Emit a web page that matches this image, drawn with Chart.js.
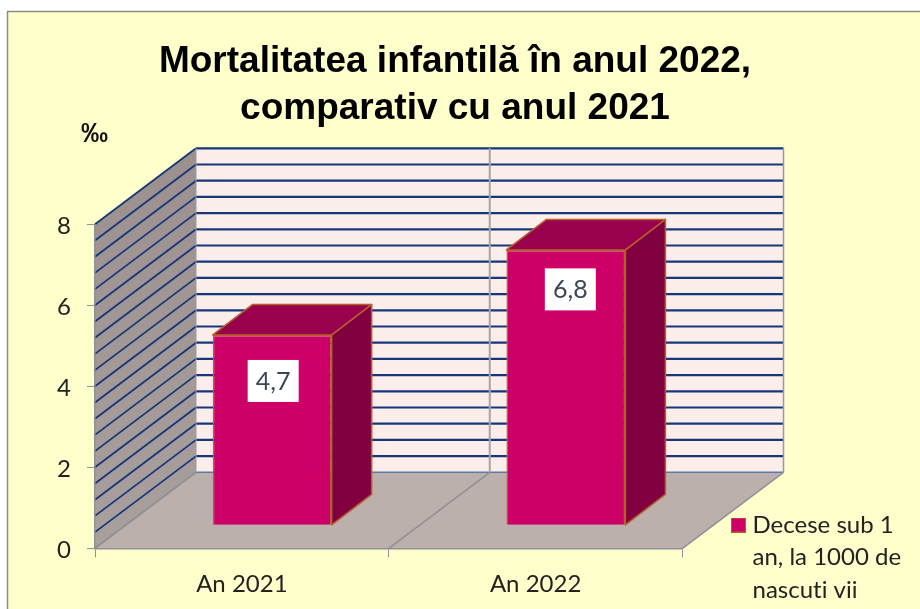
<!DOCTYPE html>
<html>
<head>
<meta charset="utf-8">
<title>Mortalitatea infantilă</title>
<script src="https://cdn.jsdelivr.net/npm/chart.js@4"></script>
<style>
  html, body { margin: 0; padding: 0; background: #ffffff; }
  canvas { display: block; }
</style>
</head>
<body>
<canvas id="chart" width="920" height="609"></canvas>
<script>
// Data
const categories = ['An 2021', 'An 2022'];
const seriesName = ['Decese sub 1', 'an, la 1000 de', 'nascuti vii'];
const seriesValues = [4.7, 6.8];
const titleLines = ['Mortalitatea infantilă în anul 2022,', 'comparativ cu anul 2021'];
const unitLabel = '‰';
const axisMax = 8;
const axisStep = 2;
const gridStep = 0.4;

// Fake 3D look: how far the back wall and the bar plane sit from the front plane
const wallDepth = { x: 101, y: 76 };
const barPlane = { x: 30.3, y: 23 };
const barDepth = { x: 40, y: 30.5 };
const labelShift = [{ x: 1, y: 46 }, { x: 4.4, y: 39.5 }];   // bar top centre to label centre

const fontLato = 'Lato, "Open Sans", sans-serif';
const fontArial = '"Liberation Sans", Arial, sans-serif';

function poly(ctx, pts, fill, stroke, lw) {
    ctx.beginPath();
    pts.forEach((p, i) => i ? ctx.lineTo(p[0], p[1]) : ctx.moveTo(p[0], p[1]));
    ctx.closePath();
    if (fill) { ctx.fillStyle = fill; ctx.fill(); }
    if (stroke) { ctx.strokeStyle = stroke; ctx.lineWidth = lw || 1; ctx.lineJoin = 'round'; ctx.stroke(); }
}

function line(ctx, x1, y1, x2, y2, color, lw) {
    ctx.beginPath();
    ctx.moveTo(x1, y1);
    ctx.lineTo(x2, y2);
    ctx.strokeStyle = color;
    ctx.lineWidth = lw;
    ctx.stroke();
}

// Legend marker: wider than the slot the legend gives it, so text sits close to it
const marker = document.createElement('canvas');
marker.width = 15;
marker.height = 15;
const mctx = marker.getContext('2d');
mctx.fillStyle = '#cc0066';
mctx.fillRect(0, 0, 15, 15);
mctx.strokeStyle = '#b5602a';
mctx.lineWidth = 1;
mctx.strokeRect(0.5, 0.5, 14, 14);

const box3d = {
    id: 'box3d',
    afterLayout(chart) {
        // title centred on the frame, legend in the lower right corner
        const t = chart.titleBlock;
        t.left = 0; t.right = 910; t.width = 910;
        const l = chart.legend;
        l.left = 726.3; l.right = 920; l.width = 193.7;
        l.top = 503; l.bottom = 609; l.height = 106;
    },
    beforeDraw(chart) {
        const ctx = chart.ctx;
        const { left, right, top, bottom } = chart.chartArea;
        const dx = wallDepth.x, dy = wallDepth.y;
        const yScale = chart.scales.y;

        ctx.textRendering = 'optimizeSpeed';

        // frame
        ctx.save();
        ctx.fillStyle = '#ffffcc';
        ctx.fillRect(8, 12, 912, 597);
        line(ctx, 7.5, 609, 7.5, 11.5, '#8c8c84', 1.5);
        line(ctx, 7, 11.5, 920, 11.5, '#8c8c84', 1.5);

        // back wall, side wall, floor
        poly(ctx, [[left + dx, top - dy], [right + dx, top - dy], [right + dx, bottom - dy], [left + dx, bottom - dy]], '#fbeeea');
        const g = ctx.createLinearGradient(0, top - dy, 0, bottom);
        g.addColorStop(0, '#9b908d');
        g.addColorStop(1, '#a9a09d');
        poly(ctx, [[left, top], [left + dx, top - dy], [left + dx, bottom - dy], [left, bottom]], g);
        poly(ctx, [[left, bottom], [right, bottom], [right + dx, bottom - dy], [left + dx, bottom - dy]], '#bcb0ad');

        // grid lines on both walls
        for (let i = 0; i * gridStep <= axisMax + 0.001; i++) {
            const y = yScale.getPixelForValue(i * gridStep);
            line(ctx, left + dx, y - dy, right + dx, y - dy, i === 0 ? '#5f7aa5' : '#17367a', i === 0 ? 1.5 : 2.2);
            line(ctx, left, y, left + dx, y - dy, i === 0 ? '#8f9096' : '#17367a', 1.8);
        }

        // wall edges and the category split
        const midX = chart.scales.x.getPixelForTick(0) + (chart.scales.x.getPixelForTick(1) - chart.scales.x.getPixelForTick(0)) / 2;
        line(ctx, left + dx, top - dy, left + dx, bottom - dy, '#9c9c9c', 1);
        line(ctx, right + dx, top - dy, right + dx, bottom - dy, '#9a9a9a', 1.5);
        line(ctx, midX + dx, top - dy, midX + dx, bottom - dy, '#a4a4a4', 2);
        line(ctx, midX, bottom, midX + dx, bottom - dy, '#8f9096', 1.5);
        line(ctx, right, bottom, right + dx, bottom - dy, '#8f9096', 1.5);
        ctx.restore();

        // unit above the value axis
        ctx.save();
        ctx.font = 'bold 27px ' + fontArial;
        ctx.fillStyle = '#111111';
        ctx.textAlign = 'center';
        ctx.textBaseline = 'middle';
        ctx.fillText(unitLabel, 94.5, 135);
        ctx.restore();
    },
    beforeDatasetsDraw(chart) {
        const ctx = chart.ctx;
        const edge = '#b5602a';
        ctx.save();
        // the bars stand on a plane set back from the axis
        ctx.translate(barPlane.x, -barPlane.y);
        chart.getDatasetMeta(0).data.forEach(bar => {
            const x1 = bar.x - bar.width / 2, x2 = bar.x + bar.width / 2;
            const dx = barDepth.x, dy = barDepth.y;
            poly(ctx, [[x2, bar.y], [x2 + dx, bar.y - dy], [x2 + dx, bar.base - dy], [x2, bar.base]], '#800040', edge, 1.5);
            poly(ctx, [[x1, bar.y], [x1 + dx, bar.y - dy], [x2 + dx, bar.y - dy], [x2, bar.y]], '#99004d', edge, 1.5);
        });
    },
    afterDatasetsDraw(chart) {
        const ctx = chart.ctx;
        ctx.restore();
        // value labels on white plates
        ctx.save();
        chart.getDatasetMeta(0).data.forEach((bar, i) => {
            const cx = bar.x + barPlane.x + labelShift[i].x;
            const cy = bar.y - barPlane.y + labelShift[i].y;
            ctx.fillStyle = '#ffffff';
            ctx.fillRect(cx - 25.5, cy - 21, 51, 42);
            ctx.fillStyle = '#3b4654';
            ctx.font = '25px ' + fontLato;
            ctx.textAlign = 'center';
            ctx.textBaseline = 'middle';
            ctx.fillText(String(seriesValues[i]).replace('.', ','), cx, cy + 1);
        });
        ctx.restore();
    }
};

new Chart(document.getElementById('chart'), {
    type: 'bar',
    data: {
        labels: categories,
        datasets: [{
            label: seriesName,
            data: seriesValues,
            backgroundColor: '#cc0066',
            borderColor: '#b5602a',
            borderWidth: 1.5,
            barPercentage: 0.405,
            categoryPercentage: 1,
            clip: false
        }]
    },
    options: {
        responsive: false,
        animation: false,
        layout: { padding: { left: 0, right: 237.5, top: 0, bottom: 0 } },
        scales: {
            x: {
                grid: { drawOnChartArea: false, color: '#8f9096', tickLength: 9 },
                border: { color: '#8f9096', width: 1.5 },
                ticks: { color: '#222222', font: { family: fontLato, size: 24 }, padding: 13, maxRotation: 0 },
                afterFit(scale) { scale.height = 60.7; }
            },
            y: {
                min: 0,
                max: axisMax,
                grid: { drawOnChartArea: false, color: '#8f9096', tickLength: 8 },
                border: { color: '#8f9096', width: 1.5 },
                ticks: { stepSize: axisStep, color: '#222222', font: { family: fontLato, size: 24 }, padding: 16, labelOffset: 1.5 },
                afterFit(scale) { scale.width = 95; }
            }
        },
        plugins: {
            title: {
                display: true,
                text: titleLines,
                color: '#000000',
                font: { family: fontArial, size: 37, weight: 'bold', lineHeight: 47 / 37 },
                padding: { top: 38, bottom: 92.3 }
            },
            legend: {
                position: 'chartArea',
                align: 'start',
                labels: {
                    usePointStyle: true,
                    pointStyleWidth: 4.2,
                    boxHeight: 14,
                    padding: 10,
                    color: '#222222',
                    font: { family: fontLato, size: 24, lineHeight: 32.5 / 24 },
                    generateLabels() {
                        return [{
                            text: seriesName,
                            pointStyle: marker,
                            fontColor: '#222222',
                            datasetIndex: 0
                        }];
                    }
                }
            },
            tooltip: { enabled: false }
        }
    },
    plugins: [box3d]
});
</script>
</body>
</html>
